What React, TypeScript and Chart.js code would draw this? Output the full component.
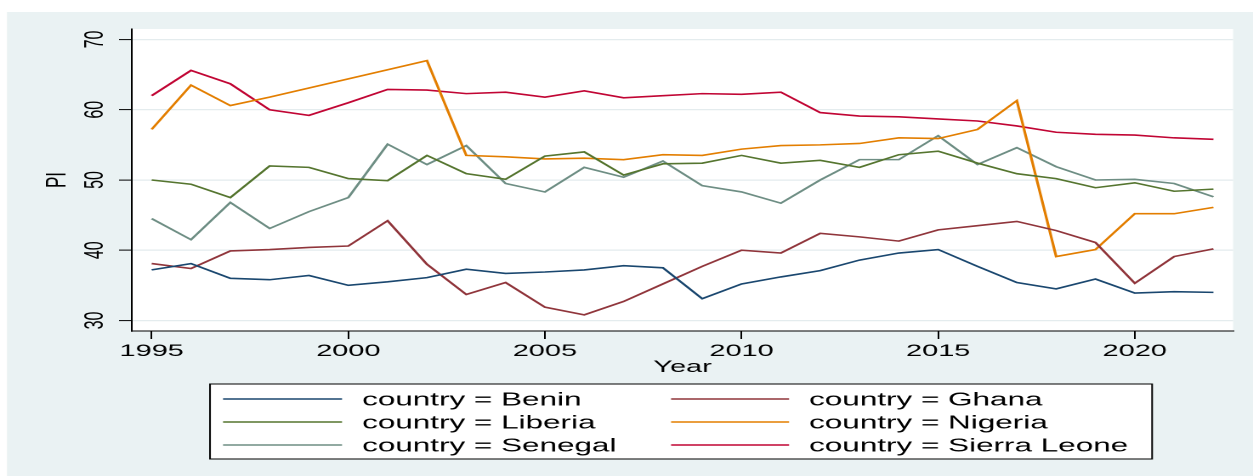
import React, { useEffect, useRef } from "react";
import { Chart, registerables } from "chart.js";

Chart.register(...registerables);

// ---- data ----
const years = [1995, 1996, 1997, 1998, 1999, 2000, 2001, 2002, 2003, 2004, 2005, 2006, 2007, 2008, 2009, 2010, 2011, 2012, 2013, 2014, 2015, 2016, 2017, 2018, 2019, 2020, 2021, 2022];
const benin = [37.2, 38.1, 36.0, 35.8, 36.4, 35.0, 35.5, 36.1, 37.3, 36.7, 36.9, 37.2, 37.8, 37.5, 33.1, 35.2, 36.2, 37.1, 38.6, 39.6, 40.1, 37.7, 35.4, 34.5, 35.9, 33.9, 34.1, 34.0];
const ghana = [38.1, 37.4, 39.9, 40.1, 40.4, 40.6, 44.2, 38.0, 33.7, 35.4, 31.9, 30.8, 32.7, 35.2, 37.7, 40.0, 39.6, 42.4, 41.9, 41.3, 42.9, 43.5, 44.1, 42.8, 41.1, 35.3, 39.1, 40.2];
const liberia = [50.0, 49.4, 47.5, 52.0, 51.8, 50.2, 49.9, 53.5, 50.9, 50.1, 53.4, 54.0, 50.7, 52.3, 52.4, 53.5, 52.4, 52.8, 51.8, 53.6, 54.1, 52.4, 50.9, 50.2, 48.9, 49.6, 48.4, 48.7];
const nigeria = [57.2, 63.5, 60.6, 61.8, 63.1, 64.4, 65.7, 67.0, 53.5, 53.3, 53.0, 53.1, 52.9, 53.6, 53.5, 54.4, 54.9, 55.0, 55.2, 56.0, 55.9, 57.2, 61.3, 39.1, 40.1, 45.2, 45.2, 46.1];
const senegal = [44.5, 41.5, 46.8, 43.1, 45.5, 47.5, 55.1, 52.2, 54.9, 49.5, 48.3, 51.8, 50.4, 52.7, 49.2, 48.3, 46.7, 50.0, 52.9, 52.9, 56.3, 52.2, 54.6, 51.9, 50.0, 50.1, 49.5, 47.6];
const sierraLeone = [62.0, 65.6, 63.7, 60.0, 59.2, 61.0, 62.9, 62.8, 62.3, 62.5, 61.8, 62.7, 61.7, 62.0, 62.3, 62.2, 62.5, 59.6, 59.1, 59.0, 58.7, 58.4, 57.7, 56.8, 56.5, 56.4, 56.0, 55.8];

const countries = ["Benin", "Ghana", "Liberia", "Nigeria", "Senegal", "Sierra Leone"];
const seriesValues = [benin, ghana, liberia, nigeria, senegal, sierraLeone];
const colors = ["#1A476F", "#90353B", "#55752F", "#E37E00", "#6E8E84", "#C10534"];
const xTicks = [1995, 2000, 2005, 2010, 2015, 2020];
const yTicks = [30, 40, 50, 60, 70];
const xTitle = "Year";
const yTitle = "PI";

// ---- geometry (the picture is horizontally stretched) ----
const DW = 1253;
const DH = 476;
const K = 1.7;
const LW = Math.round(DW / K);
const FONT = '"Liberation Sans", Arial, Helvetica, sans-serif';

const bgPlugin = {
  id: "stataBg",
  beforeDraw(chart: any) {
    const { ctx, chartArea: ca } = chart;
    ctx.save();
    ctx.fillStyle = "#ffffff";
    ctx.fillRect(0, 0, chart.width, chart.height);
    ctx.fillStyle = "#EAF2F3";
    ctx.fillRect(7 / K, 12, chart.width, chart.height);
    ctx.fillStyle = "#ffffff";
    ctx.fillRect(ca.left, ca.top, ca.right - ca.left, ca.bottom - ca.top);
    ctx.restore();
  },
  afterDraw(chart: any) {
    const { ctx, chartArea: ca } = chart;
    const ys = chart.scales.y;
    ctx.save();
    ctx.fillStyle = "#000";
    // y tick labels (rotated)
    const tsize = 16;
    ctx.font = `${tsize}px ${FONT}`;
    ctx.textAlign = "center";
    ctx.textBaseline = "alphabetic";
    const labelX = 93 / K;
    for (const t of ys.ticks) {
      const py = ys.getPixelForValue(t.value);
      ctx.save();
      ctx.translate(labelX, py);
      ctx.rotate(-Math.PI / 2);
      ctx.fillText(String(t.value), 0, (0.716 * tsize) / 2);
      ctx.restore();
    }
    // y title
    const ttl = 17;
    ctx.font = `${ttl}px ${FONT}`;
    ctx.save();
    ctx.translate(55 / K, (ca.top + ca.bottom) / 2);
    ctx.rotate(-Math.PI / 2);
    ctx.fillText(yTitle, 0, (0.716 * ttl) / 2);
    ctx.restore();
    // x title
    ctx.fillText(xTitle, (ca.left + ca.right) / 2, 366 + (0.716 * ttl) / 2);

    // legend
    const bx0 = 210 / K, bx1 = 1152 / K, by0 = 384, by1 = 459;
    ctx.fillStyle = "#ffffff";
    ctx.fillRect(bx0, by0, bx1 - bx0, by1 - by0);
    ctx.strokeStyle = "#000";
    ctx.lineWidth = 1;
    ctx.strokeRect(bx0, by0, bx1 - bx0, by1 - by0);
    const rows = [399, 422, 445];
    const lineX = [[223 / K, 342 / K], [671 / K, 789 / K]];
    const textX = [362 / K, 809 / K];
    const ls = 18.5;
    ctx.font = `${ls}px ${FONT}`;
    ctx.textAlign = "left";
    chart.data.datasets.forEach((ds: any, i: number) => {
      const r = Math.floor(i / 2);
      const c = i % 2;
      const y = rows[r];
      ctx.strokeStyle = ds.borderColor;
      ctx.lineWidth = 1.6;
      ctx.beginPath();
      ctx.moveTo(lineX[c][0], y);
      ctx.lineTo(lineX[c][1], y);
      ctx.stroke();
      ctx.fillStyle = "#000";
      ctx.fillText(ds.label, textX[c], y + (0.716 * ls) / 2);
    });
    ctx.restore();
  },
};

export default function App() {
  const ref = useRef<HTMLCanvasElement>(null);
  useEffect(() => {
    const canvas = ref.current;
    if (!canvas) return;
    const chart = new Chart(canvas, {
      type: "line",
      data: {
        datasets: countries.map((name, i) => ({
          label: `country = ${name}`,
          data: years.map((yr, j) => ({ x: yr, y: seriesValues[i][j] })),
          borderColor: colors[i],
          backgroundColor: colors[i],
          borderWidth: 1.6,
          pointRadius: 0,
          tension: 0,
          fill: false,
        })),
      },
      options: {
        responsive: false,
        devicePixelRatio: 2,
        animation: false,
        events: [],
        layout: { padding: { left: 0, top: 29, right: LW - 1233 / K, bottom: 0 } },
        plugins: { legend: { display: false }, tooltip: { enabled: false } },
        scales: {
          x: {
            type: "linear",
            min: 1994.5,
            max: 2022.5,
            afterBuildTicks: (s: any) => {
              s.ticks = xTicks.map((v) => ({ value: v }));
            },
            afterFit: (s: any) => {
              s.height = DH - 331;
            },
            grid: { drawOnChartArea: false, drawTicks: true, tickLength: 8, tickColor: "#000", tickWidth: 1 },
            border: { display: true, color: "#000", width: 1 },
            ticks: {
              color: "#000",
              font: { family: FONT, size: 17 },
              padding: 2,
              maxRotation: 0,
              minRotation: 0,
              autoSkip: false,
              callback: (v: any) => String(v),
            },
          },
          y: {
            type: "linear",
            min: 28.5,
            max: 71.5,
            afterBuildTicks: (s: any) => {
              s.ticks = yTicks.map((v) => ({ value: v }));
            },
            afterFit: (s: any) => {
              s.width = 132 / K;
            },
            grid: { color: "#E4ECEE", lineWidth: 1.2, drawTicks: true, tickLength: 13 / K, tickColor: "#000", tickWidth: 1 },
            border: { display: true, color: "#000", width: 1 },
            ticks: { display: false },
          },
        },
      },
      plugins: [bgPlugin],
    } as any);
    return () => chart.destroy();
  }, []);
  return (
    <div style={{ position: "fixed", left: 0, top: 0, width: DW, height: DH, background: "#fff" }}>
      <canvas ref={ref} width={LW} height={DH} style={{ width: `${DW}px`, height: `${DH}px`, display: "block" }} />
    </div>
  );
}
